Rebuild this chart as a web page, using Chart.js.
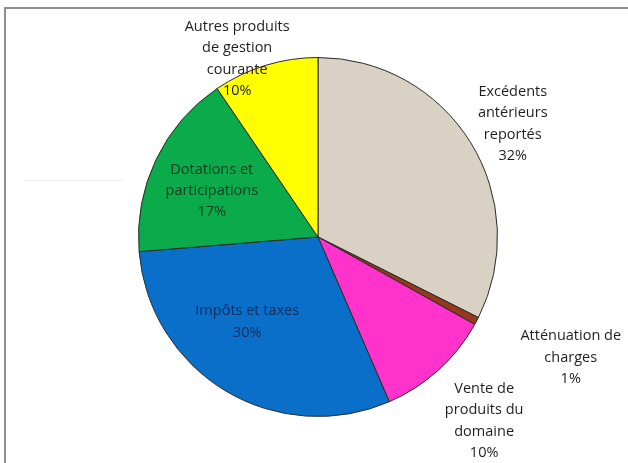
<!DOCTYPE html>
<html>
<head>
<meta charset="utf-8">
<script src="https://cdn.jsdelivr.net/npm/chart.js@4"></script>
<style>
  html, body { margin: 0; padding: 0; background: #ffffff; }
  #wrap { position: relative; width: 628px; height: 463px; overflow: hidden; }
  #frame { position: absolute; left: 4px; top: 7px; width: 640px; height: 480px;
           border-left: 2px solid #8e8e8e; border-top: 2px solid #8e8e8e; }
  #faint { position: absolute; left: 25px; top: 180px; width: 98px; height: 0;
           border-top: 1px solid #ececec; }
  canvas { position: absolute; left: 0; top: 0; }
</style>
</head>
<body>
<div id="wrap">
  <div id="frame"></div>
  <div id="faint"></div>
  <canvas id="c" width="628" height="463"></canvas>
</div>
<script>
const categories = [
  ["Excédents", "antérieurs", "reportés"],
  ["Atténuation de", "charges"],
  ["Vente de", "produits du", "domaine"],
  ["Impôts et taxes"],
  ["Dotations et", "participations"],
  ["Autres produits", "de gestion", "courante"]
];
const values = [32.4, 0.7, 10.4, 30.2, 16.8, 9.5];
const colors = ["#D8D1C4", "#96381C", "#FF33CC", "#0A6FC8", "#0BAA4B", "#FFFF00"];

// label placement (style): angle offset in degrees, radius factor, text colour
const labelStyle = [
  { da: 1.5, k: 1.255, color: "#1f1f1f" },
  { da: -2.4, k: 1.56, color: "#1f1f1f" },
  { da: 0, k: 1.38, color: "#1f1f1f" },
  { da: 8.9, k: 0.615, color: "#0E2C5E" },
  { da: -2.1, k: 0.645, color: "#0B3F1E" },
  { da: -7.3, k: 1.09, color: "#1f1f1f" }
];

const labelPlugin = {
  id: 'pieLabels',
  afterDatasetsDraw(chart) {
    const ctx = chart.ctx;
    const meta = chart.getDatasetMeta(0);
    const data = chart.data.datasets[0].data;
    const total = data.reduce((a, b) => a + b, 0);
    ctx.save();
    ctx.font = '14.5px "Open Sans", sans-serif';
    ctx.textAlign = 'center';
    ctx.textBaseline = 'middle';
    meta.data.forEach((arc, i) => {
      const p = arc.getProps(['x', 'y', 'startAngle', 'endAngle', 'outerRadius'], true);
      const st = labelStyle[i];
      const mid = (p.startAngle + p.endAngle) / 2 + st.da * Math.PI / 180;
      const r = p.outerRadius * st.k;
      const cx = p.x + Math.cos(mid) * r;
      const cy = p.y + Math.sin(mid) * r;
      const lines = categories[i].concat([Math.round(data[i] / total * 100) + '%']);
      const lh = 21.3;
      const y0 = cy - (lines.length - 1) * lh / 2;
      ctx.fillStyle = st.color;
      lines.forEach((t, j) => ctx.fillText(t, cx, y0 + j * lh));
    });
    ctx.restore();
  }
};

new Chart(document.getElementById('c'), {
  type: 'pie',
  data: {
    labels: categories.map(c => c.join(' ')),
    datasets: [{
      data: values,
      backgroundColor: colors,
      borderColor: '#2b2b2b',
      borderWidth: 1
    }]
  },
  options: {
    responsive: false,
    animation: false,
    layout: { padding: { top: 57, bottom: 46, left: 8, right: 0 } },
    plugins: { legend: { display: false }, tooltip: { enabled: false } }
  },
  plugins: [labelPlugin]
});
</script>
</body>
</html>
